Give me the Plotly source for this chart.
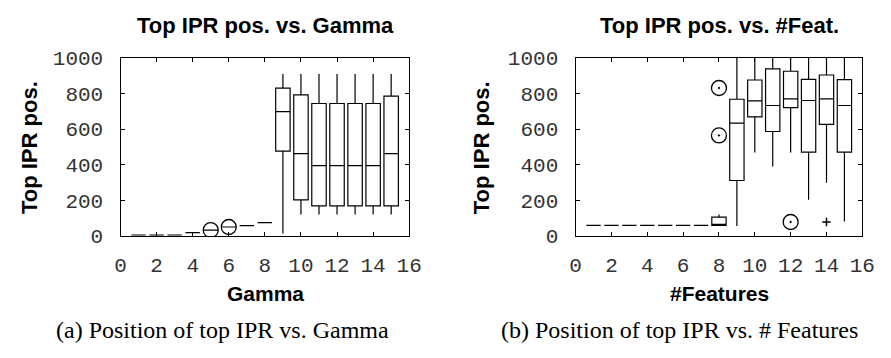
import plotly.graph_objects as go

# ---------------- data: (a) Gamma ----------------
gamma_x = [1, 2, 3, 4, 5, 6, 7, 8, 9, 10, 11, 12, 13, 14, 15]
gamma_low = [5, 5, 5, 19, 33, 50, 58, 75, 14, 120, 120, 120, 120, 120, 120]
gamma_q1 = [5, 5, 5, 19, 33, 50, 58, 75, 476, 202, 169, 169, 169, 169, 169]
gamma_med = [5, 5, 5, 19, 33, 50, 58, 75, 698, 462, 394, 394, 394, 394, 462]
gamma_q3 = [5, 5, 5, 19, 33, 50, 58, 75, 829, 792, 743, 743, 743, 743, 784]
gamma_high = [5, 5, 5, 19, 33, 50, 58, 75, 909, 909, 909, 909, 909, 909, 909]
gamma_out_x = [5, 6]
gamma_out_y = [33, 50]

# ---------------- data: (b) #Features ----------------
feat_x = [1, 2, 3, 4, 5, 6, 7, 8, 9, 10, 11, 12, 13, 14, 15]
feat_low = [59, 59, 59, 59, 59, 59, 59, 59, 55, 468, 390, 468, 203, 299, 81]
feat_q1 = [59, 59, 59, 59, 59, 59, 59, 59, 311, 668, 586, 720, 470, 626, 470]
feat_med = [59, 59, 59, 59, 59, 59, 59, 59, 633, 758, 732, 769, 760, 769, 732]
feat_q3 = [59, 59, 59, 59, 59, 59, 59, 106, 767, 875, 937, 924, 878, 903, 877]
feat_high = [59, 59, 59, 59, 59, 59, 59, 120, 1000, 1000, 1000, 1000, 1000, 1000, 1000]
feat_out_x = [8, 8, 12]
feat_out_y = [830, 564, 78]
feat_small_out_x = [14]
feat_small_out_y = [78]

x_ticks = [0, 2, 4, 6, 8, 10, 12, 14, 16]
y_ticks = [0, 200, 400, 600, 800, 1000]

LABEL_FONT = "Liberation Sans, Arial, Helvetica"
TICK_FONT = "Liberation Mono, Courier New, monospace"
CAP_FONT = "Liberation Serif, Times New Roman, serif"

fig = go.Figure()

def add_boxes(x, lo, q1, med, q3, hi, xa, ya):
    fig.add_trace(go.Box(
        x=x, lowerfence=lo, q1=q1, median=med, q3=q3, upperfence=hi,
        width=0.8, whiskerwidth=0,
        line=dict(color="black", width=1.2),
        fillcolor="rgba(0,0,0,0)",
        boxpoints=False, hoverinfo="skip",
        xaxis=xa, yaxis=ya, showlegend=False,
    ))

add_boxes(gamma_x, gamma_low, gamma_q1, gamma_med, gamma_q3, gamma_high, "x", "y")
add_boxes(feat_x, feat_low, feat_q1, feat_med, feat_q3, feat_high, "x2", "y2")

fig.add_trace(go.Scatter(
    x=gamma_out_x, y=gamma_out_y, mode="markers",
    marker=dict(symbol="circle-open", size=15, color="black", line=dict(width=1.3)),
    xaxis="x", yaxis="y", showlegend=False, hoverinfo="skip"))
fig.add_trace(go.Scatter(
    x=feat_out_x, y=feat_out_y, mode="markers",
    marker=dict(symbol="circle-open-dot", size=15, color="black", line=dict(width=1.3)),
    xaxis="x2", yaxis="y2", showlegend=False, hoverinfo="skip"))
fig.add_trace(go.Scatter(
    x=feat_small_out_x, y=feat_small_out_y, mode="markers",
    marker=dict(symbol="cross-thin-open", size=6, color="black", line=dict(width=1.5)),
    xaxis="x2", yaxis="y2", showlegend=False, hoverinfo="skip"))

W, H = 891, 358
py = lambda y: 1 - y / H

axis_common = dict(
    showline=True, linecolor="black", linewidth=1.2, mirror="ticks",
    ticks="inside", ticklen=4, tickcolor="black", tickwidth=1,
    showgrid=False, zeroline=False,
    tickfont=dict(family=TICK_FONT, size=21, color="#333333"),
)

fig.update_layout(
    width=W, height=H,
    margin=dict(l=0, r=0, t=0, b=0),
    paper_bgcolor="white", plot_bgcolor="white",
    xaxis=dict(domain=[117 / W, 412 / W], range=[0, 16], tickvals=x_ticks,
               ticktext=[str(v) for v in x_ticks], anchor="y",
               ticklabelstandoff=9, **axis_common),
    yaxis=dict(domain=[py(242), py(51)], range=[-3, 1000], tickvals=y_ticks,
               anchor="x", ticklabelstandoff=12, **axis_common),
    xaxis2=dict(domain=[582 / W, 875 / W], range=[0, 16], tickvals=x_ticks,
                ticktext=[str(v) for v in x_ticks], anchor="y2",
                ticklabelstandoff=9, **axis_common),
    yaxis2=dict(domain=[py(242), py(51)], range=[-3, 1000], tickvals=y_ticks,
                anchor="x2", ticklabelstandoff=12, **axis_common),
)

def ann(text, x, y, family, size, bold=False, angle=0):
    t = f"<b>{text}</b>" if bold else text
    fig.add_annotation(text=t, x=x / W, y=py(y), xref="paper", yref="paper",
                       showarrow=False, xanchor="center", yanchor="middle",
                       textangle=angle, font=dict(family=family, size=size, color="black"))

ann("Top IPR pos. vs. Gamma", 265, 17, LABEL_FONT, 22, bold=True)
ann("Top IPR pos. vs. #Feat.", 729, 17, LABEL_FONT, 22, bold=True)
ann("Top IPR pos.", 24, 147, LABEL_FONT, 22, bold=True, angle=-90)
ann("Top IPR pos.", 486, 147, LABEL_FONT, 22, bold=True, angle=-90)
ann("Gamma", 265, 303, LABEL_FONT, 21, bold=True)
ann("#Features", 729, 303, LABEL_FONT, 21, bold=True)
ann("(a) Position of top IPR vs. Gamma", 221, 342, CAP_FONT, 24)
ann("(b) Position of top IPR vs. # Features", 688, 342, CAP_FONT, 24)

fig.write_html("out.html")
